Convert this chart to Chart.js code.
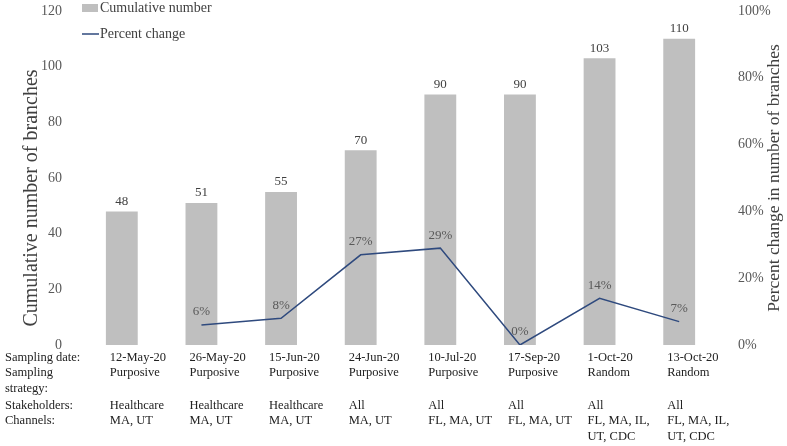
<!DOCTYPE html>
<html>
<head>
    <title>Cumulative number of branches</title>
    <script src="https://cdn.jsdelivr.net/npm/chart.js"></script>
    <style>
        body { margin: 0; background: #fff; }
    </style>
</head>
<body>
    <canvas id="branchChart" width="787" height="446"></canvas>

    <script>
        // values
        const samplingDates = ['12-May-20', '26-May-20', '15-Jun-20', '24-Jun-20', '10-Jul-20', '17-Sep-20', '1-Oct-20', '13-Oct-20'];
        const cumulativeBranches = [48, 51, 55, 70, 90, 90, 103, 110];
        const percentChange = [null, 6, 8, 27, 29, 0, 14, 7];
        const strategies = ['Purposive', 'Purposive', 'Purposive', 'Purposive', 'Purposive', 'Purposive', 'Random', 'Random'];
        const stakeholders = ['Healthcare', 'Healthcare', 'Healthcare', 'All', 'All', 'All', 'All', 'All'];
        const channels = [['MA, UT'], ['MA, UT'], ['MA, UT'], ['MA, UT'], ['FL, MA, UT'], ['FL, MA, UT'], ['FL, MA, IL,', 'UT, CDC'], ['FL, MA, IL,', 'UT, CDC']];

        const serif = '"Liberation Serif", "Times New Roman", serif';
        const barGrey = '#BFBFBF';
        const lineBlue = '#2F4A7E';

        // labels, legend, axis titles and the table under the chart
        const extrasPlugin = {
            id: 'extras',
            afterDraw(chart) {
                const ctx = chart.ctx;
                const x = chart.scales.x;
                const area = chart.chartArea;
                ctx.save();

                // value labels
                ctx.textAlign = 'center';
                ctx.textBaseline = 'middle';
                ctx.font = '13px ' + serif;
                ctx.fillStyle = '#404040';
                chart.getDatasetMeta(0).data.forEach((bar, i) => {
                    ctx.fillText(cumulativeBranches[i], bar.x, bar.y - 10);
                });
                ctx.fillStyle = '#595959';
                chart.getDatasetMeta(1).data.forEach((pt, i) => {
                    if (percentChange[i] === null) return;
                    ctx.fillText(percentChange[i] + '%', pt.x, pt.y - 13);
                });

                // legend
                ctx.textAlign = 'left';
                ctx.font = '14px ' + serif;
                ctx.fillStyle = barGrey;
                ctx.fillRect(area.left, 4, 16, 8);
                ctx.strokeStyle = lineBlue;
                ctx.lineWidth = 1.5;
                ctx.beginPath();
                ctx.moveTo(area.left, 34);
                ctx.lineTo(area.left + 17, 34);
                ctx.stroke();
                ctx.fillStyle = '#404040';
                ctx.fillText('Cumulative number', area.left + 18, 8);
                ctx.fillText('Percent change', area.left + 18, 34);

                // axis titles
                ctx.textAlign = 'center';
                ctx.fillStyle = '#404040';
                ctx.save();
                ctx.translate(32, 198);
                ctx.rotate(-Math.PI / 2);
                ctx.font = '20px ' + serif;
                ctx.fillText('Cumulative number of branches', 0, 0);
                ctx.restore();
                ctx.save();
                ctx.translate(774, 178);
                ctx.rotate(-Math.PI / 2);
                ctx.font = '17.5px ' + serif;
                ctx.fillText('Percent change in number of branches', 0, 0);
                ctx.restore();

                // table below the bars
                ctx.textAlign = 'left';
                ctx.font = '12.5px ' + serif;
                ctx.fillStyle = '#222';
                const rowY = [358, 373, 389, 406, 421, 437];
                ctx.fillText('Sampling date:', 5, rowY[0]);
                ctx.fillText('Sampling', 5, rowY[1]);
                ctx.fillText('strategy:', 5, rowY[2]);
                ctx.fillText('Stakeholders:', 5, rowY[3]);
                ctx.fillText('Channels:', 5, rowY[4]);
                samplingDates.forEach((d, i) => {
                    const tx = x.getPixelForValue(i) - 12;
                    ctx.fillText(d, tx, rowY[0]);
                    ctx.fillText(strategies[i], tx, rowY[1]);
                    ctx.fillText(stakeholders[i], tx, rowY[3]);
                    channels[i].forEach((line, k) => ctx.fillText(line, tx, rowY[4 + k]));
                });
                ctx.restore();
            }
        };

        function fixWidth(w) {
            return s => {
                s.width = w;
                s.paddingTop = 0;
                s.paddingBottom = 0;
            };
        }

        new Chart(document.getElementById('branchChart'), {
            type: 'bar',
            data: {
                labels: samplingDates,
                datasets: [{
                    label: 'Cumulative number',
                    data: cumulativeBranches,
                    yAxisID: 'y',
                    backgroundColor: barGrey,
                    barPercentage: 0.4,
                    categoryPercentage: 1,
                    order: 2
                }, {
                    type: 'line',
                    label: 'Percent change',
                    data: percentChange,
                    yAxisID: 'y1',
                    borderColor: lineBlue,
                    borderWidth: 1.5,
                    pointRadius: 0,
                    tension: 0,
                    order: 1
                }]
            },
            options: {
                responsive: false,
                animation: false,
                layout: { padding: { top: 11, bottom: 101, left: 0, right: 0 } },
                plugins: {
                    legend: { display: false },
                    tooltip: { enabled: false }
                },
                scales: {
                    x: { display: false },
                    y: {
                        position: 'left',
                        min: 0,
                        max: 120,
                        grid: { display: false },
                        border: { display: false },
                        ticks: { stepSize: 20, padding: 12, color: '#595959', font: { family: serif, size: 14 } },
                        afterFit: fixWidth(82)
                    },
                    y1: {
                        position: 'right',
                        min: 0,
                        max: 100,
                        grid: { display: false },
                        border: { display: false },
                        ticks: { stepSize: 20, padding: 11, color: '#595959', font: { family: serif, size: 14 }, callback: v => v + '%' },
                        afterFit: fixWidth(68)
                    }
                }
            },
            plugins: [extrasPlugin]
        });
    </script>
</body>
</html>
